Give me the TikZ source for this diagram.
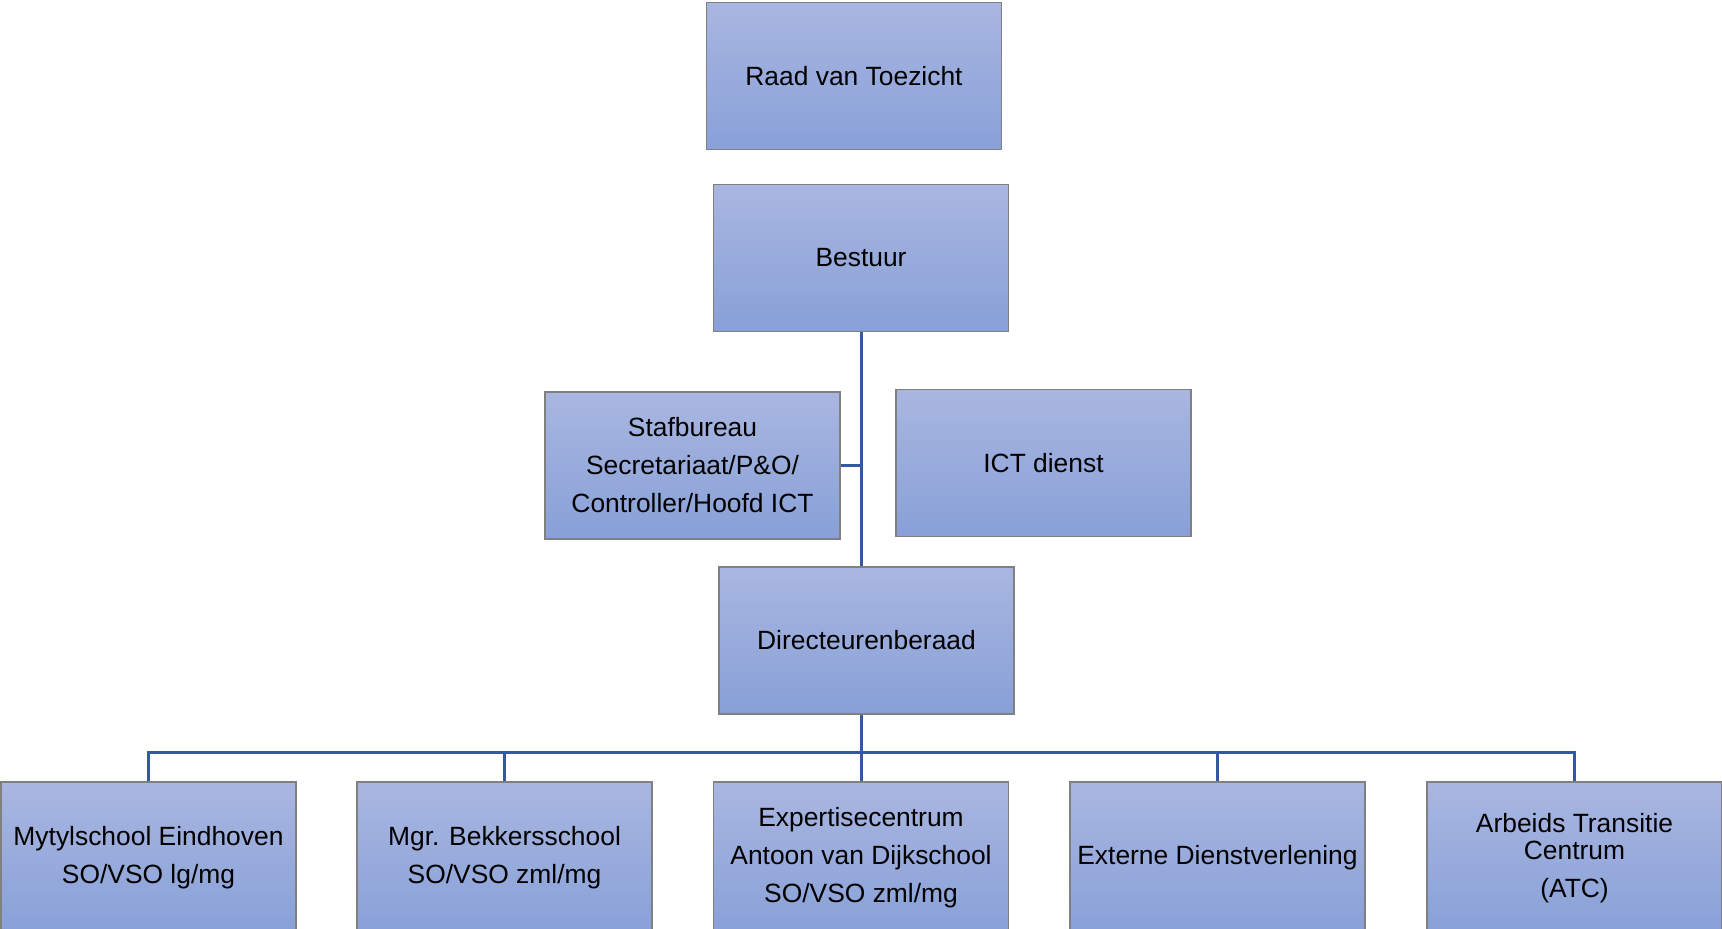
\documentclass[tikz,border=0pt]{standalone}
\usepackage{fontspec}
\setmainfont{Liberation Sans}
\definecolor{boxtop}{RGB}{169,182,224}
\definecolor{boxbot}{RGB}{136,160,216}
\definecolor{boxline}{RGB}{128,128,128}
\definecolor{conn}{RGB}{52,88,164}
\tikzset{
  orgbox/.style={rectangle, draw=boxline, line width=1.5pt, top color=boxtop, bottom color=boxbot,
    minimum width=295pt, minimum height=147pt, inner sep=0pt, align=center,
    font=\fontsize{26.4}{38}\selectfont, text=black},
  lowbox/.style={orgbox, minimum height=152pt},
  link/.style={draw=conn, line width=3pt}
}
\begin{document}
\begin{tikzpicture}[x=1pt,y=-1pt]
\useasboundingbox (0,0) rectangle (1722,929);
\node[orgbox] (raad) at (854,76) {Raad van Toezicht};
\node[orgbox] (bestuur) at (861,258) {Bestuur};
\node[orgbox] (staf) at (692.5,465.5) {Stafbureau\\Secretariaat/P\&O/\\Controller/Hoofd ICT};
\node[orgbox] (ict) at (1043.5,463) {ICT dienst};
\node[orgbox] (dir) at (866.5,640.5) {Directeurenberaad};
\node[lowbox] (myt) at (148.5,858) {Mytylschool Eindhoven\\SO/VSO lg/mg};
\node[lowbox] (bek) at (504.5,858) {Mgr. Bekkersschool\\SO/VSO zml/mg};
\node[lowbox] (exp) at (861,858) {Expertisecentrum\\Antoon van Dijkschool\\SO/VSO zml/mg};
\node[lowbox] (ext) at (1217.5,858) {Externe Dienstverlening};
\node[lowbox] (atc) at (1574.5,858) {Arbeids Transitie\\[-11.6pt]Centrum\\(ATC)};
\coordinate (bus) at (861,752);
\draw[link] (bestuur.south) -- (bestuur.south |- dir.north);
\draw[link] (staf.east) -- (staf.east -| bestuur.south);
\draw[link] (bestuur.south |- dir.south) -- (bus);
\draw[link] (myt.north) -- (myt.north |- bus) -- (atc.north |- bus) -- (atc.north);
\draw[link] (bek.north) -- (bek.north |- bus);
\draw[link] (exp.north) -- (exp.north |- bus);
\draw[link] (ext.north) -- (ext.north |- bus);
\end{tikzpicture}
\end{document}
